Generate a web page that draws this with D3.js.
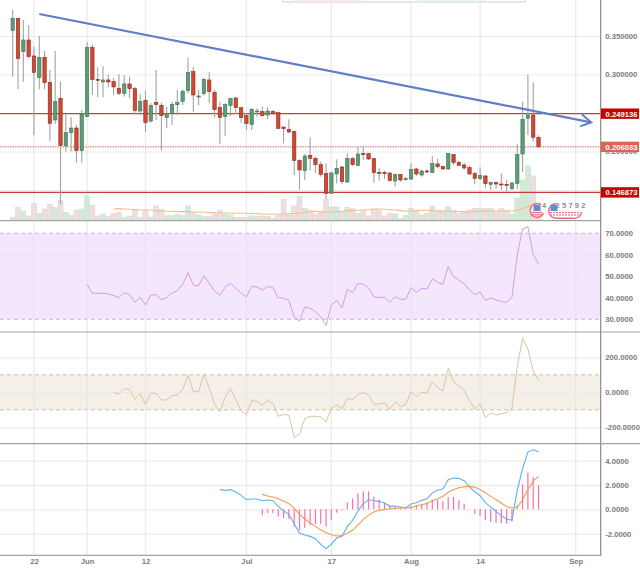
<!DOCTYPE html>
<html>
<head>
<meta charset="utf-8">
<script src="https://cdn.jsdelivr.net/npm/d3@7/dist/d3.min.js"></script>
<style>
html,body{margin:0;padding:0;background:#fff;}
svg{display:block;font-family:"Liberation Sans",Arial,sans-serif;}
.tick text{fill:#7b7b7b;font-size:7.7px;font-weight:700;}
</style>
</head>
<body>
<svg id="chart" width="640" height="568"></svg>
<script>
// Daily candles, first session 18 May
const opens = [.3570,.3730,.3297,.3448,.3241,.2959,.3223,.2898,.2409,.2691,
.2072,.2245,.2305,.2011,.2452,.3353,.2937,.2903,.2929,.2907,
.2821,.2756,.2877,.2816,.2526,.2665,.2396,.2639,.2600,.2440,
.2496,.2608,.2652,.2790,.3037,.2712,.2751,.2929,.2769,.2574,
.2452,.2595,.2695,.2569,.2465,.2349,.2517,.2517,.2474,.2522,
.2504,.2318,.2288,.2262,.1885,.1751,.1950,.1911,.1829,.1712,
.1457,.1708,.1799,.1604,.1907,.1816,.1972,.1972,.1907,.1729,
.1729,.1721,.1617,.1703,.1638,.1643,.1773,.1695,.1747,.1729,
.1838,.1807,.1773,.1959,.1859,.1825,.1790,.1712,.1647,.1682,
.1574,.1595,.1578,.1574,.1517,.1587,.1968,.2431,.2474,.2184];
const highs = [.3838,.3735,.3708,.3643,.3362,.3500,.3306,.3059,.3306,.2907,
.2487,.2444,.2349,.2539,.3422,.3392,.3093,.3111,.3000,.2950,
.3007,.2989,.2972,.2842,.2743,.2790,.2626,.3059,.2634,.2582,
.2647,.2799,.2808,.3219,.3102,.2799,.2950,.3028,.2799,.2647,
.2626,.2691,.2712,.2574,.2496,.2561,.2561,.2582,.2574,.2539,
.2504,.2318,.2418,.2262,.1898,.1968,.2184,.1933,.1868,.1846,
.1738,.1898,.1812,.1976,.1933,.2063,.2072,.1985,.1916,.1790,
.1751,.1730,.1712,.1712,.1673,.1846,.1790,.1760,.1768,.1942,
.1907,.1816,.1976,.1968,.1877,.1855,.1816,.1734,.1794,.1695,
.1612,.1608,.1716,.1630,.1608,.2093,.2647,.2998,.2898,.2210];
const lows = [.2972,.2808,.2907,.3210,.2214,.2808,.2808,.2141,.2357,.1318,
.2000,.2000,.1855,.1855,.2452,.2734,.2704,.2704,.2834,.2734,
.2734,.2712,.2691,.2483,.2474,.2249,.2375,.2409,.2011,.2301,
.2344,.2474,.2604,.2756,.2517,.2604,.2725,.2626,.2440,.2097,
.2201,.2461,.2487,.2375,.2279,.2279,.2452,.2452,.2418,.2474,
.2292,.2106,.2236,.1695,.1500,.1630,.1760,.1725,.1673,.1379,
.1457,.1586,.1578,.1595,.1816,.1816,.1890,.1890,.1595,.1621,
.1643,.1608,.1543,.1608,.1621,.1630,.1682,.1673,.1716,.1716,
.1781,.1760,.1760,.1825,.1812,.1760,.1695,.1578,.1630,.1522,
.1500,.1517,.1500,.1483,.1500,.1513,.1734,.2214,.2128,.2054];
const closes = [.3730,.3206,.3448,.3232,.3028,.3223,.2894,.2366,.2647,.2076,
.2245,.2305,.2011,.2487,.3353,.2937,.2924,.2929,.2903,.2838,
.2756,.2877,.2816,.2535,.2652,.2375,.2600,.2608,.2465,.2487,
.2613,.2639,.2782,.3028,.2734,.2721,.2937,.2777,.2543,.2440,
.2608,.2691,.2569,.2440,.2366,.2548,.2526,.2465,.2526,.2496,
.2301,.2297,.2253,.1885,.1760,.1942,.1911,.1829,.1703,.1457,
.1721,.1781,.1608,.1907,.1829,.1968,.1963,.1903,.1725,.1716,
.1712,.1621,.1699,.1630,.1647,.1764,.1708,.1747,.1734,.1842,
.1803,.1773,.1976,.1855,.1820,.1786,.1708,.1651,.1686,.1582,
.1595,.1578,.1565,.1561,.1591,.1959,.2418,.2474,.2184,.206033];
const volumes = [9,39,28,13,51,21,34,48,39,59,
24,14,31,34,73,46,13,19,11,20,
24,9,13,33,9,28,9,43,33,14,
14,18,14,43,24,16,11,11,19,30,
18,16,9,9,9,13,13,13,11,6,
16,63,16,43,72,36,29,19,24,63,
40,40,26,39,35,21,28,13,33,31,
13,21,19,6,15,36,29,16,21,43,
29,29,40,29,20,23,31,36,36,36,
36,26,36,29,18,66,121,163,133,40];
const volumeAvg = [34,35,34,33,32,31,31,31,29,28,27,27,26,26,26,25,24,24,23,23,
22,22,21,21,21,21,20,20,19,18,18,18,19,20,21,22,24,26,27,26,
25,25,26,27,29,29,30,31,32,34,34,33,32,31,29,27,28,29,30,30,
29,28,27,27,27,26,26,25,26,28,29,28,28,28,28,27,30,35,41,46,50];
const volumeAvgStart = 19;

// Oscillator series, each with the session it starts on
const rsi = [46.3,42.1,42.1,42.1,41.8,41.0,40.1,42.4,41.6,37.9,40.2,36.7,41.2,41.5,39.1,40.1,42.2,43.3,46.3,51.7,
46.0,45.5,50.3,46.7,43.2,41.2,44.9,46.7,44.4,42.2,40.4,45.3,45.0,43.6,45.3,44.7,39.9,39.9,38.8,31.2,
29.2,35.7,35.1,33.6,31.2,27.2,36.7,38.7,35.4,44.0,42.4,46.7,46.4,44.7,40.5,40.2,40.2,37.9,40.5,39.3,
39.3,44.7,42.6,44.4,44.1,48.8,47.2,46.3,54.5,49.8,48.3,46.6,43.6,41.5,42.7,38.8,39.9,39.0,38.2,37.9,
40.2,59.9,72.0,73.1,60.2,55.7];
const rsiStart = 14;
const cci = [0,-10,21,15,-40,-6,-69,-6,-6,-44,-44,-19,-15,15,97,4,4,103,25,-67,
-110,-30,21,-42,-103,-130,-46,-53,-74,-46,-63,-137,-126,-131,-257,-240,-150,-137,-137,-141,
-168,-93,-72,-93,-34,-44,-11,-2,-17,-67,-67,-59,-97,-55,-82,-70,4,-25,0,-4,
59,27,8,137,61,36,10,-48,-95,-67,-145,-118,-130,-122,-118,-91,147,309,248,122,70];
const cciStart = 19;
const macd = [1.62,1.56,1.62,1.42,1.15,.79,.85,.85,.71,.77,.71,.25,-.14,-.41,-1.18,-1.97,-2.11,-2.22,-2.41,-2.88,
-3.23,-2.85,-2.36,-2.22,-1.40,-.90,-.14,.47,.79,.71,.66,.52,.27,.27,.19,.11,.44,.55,.74,.88,
1.34,1.59,1.67,2.44,2.58,2.55,2.36,1.84,1.45,1.12,.55,.19,-.16,-.52,-.82,-.88,1.56,3.34,4.71,4.90,4.74];
const macdStart = 39;
const signal = [1.23,1.10,1.01,.88,.68,.47,.11,-.41,-.79,-1.12,-1.40,-1.67,-1.92,-2.08,-2.19,-2.16,-1.97,-1.70,-1.29,-.85,
-.47,-.22,-.08,0,.03,.08,.11,.11,.16,.27,.38,.49,.71,.85,1.07,1.40,1.64,1.78,1.86,1.89,
1.81,1.64,1.37,1.07,.79,.52,.22,.11,.19,.79,1.62,2.33,2.71];
const histogram = [-.49,-.30,-.30,-.58,-.71,-.82,-1.40,-1.73,-1.53,-1.29,-1.23,-1.18,-1.40,-.85,-.27,-.08,.58,.90,1.32,1.48,
1.48,1.04,.82,.55,.27,.22,.14,.05,.27,.33,.44,.55,.79,.74,.66,1.01,1.01,.74,.47,.03,
-.38,-.55,-.90,-1.04,-1.12,-1.15,-1.18,-.99,.33,2.08,3.04,2.66,2.0];
const signalStart = 47;

// Axis ticks and price annotations
const dateTicks = ["2017-05-22","2017-06-01","2017-06-12","2017-07-01","2017-07-17","2017-08-01","2017-08-14","2017-09-01"].map(d => new Date(d));
const dateLabels = ["22","Jun","12","Jul","17","Aug","14","Sep"];
const priceGrid = [.35,.30,.25,.20,.15];
const priceLabels = [.35,.30,.20];
const rsiTicks = [70,60,50,40,30];
const cciTicks = [200,0,-200];
const macdTicks = [4,2,0,-2];
const levels = [.249136,.146873];
const lastPrice = .206033;
const trendTimes = ["2017-05-23","2017-09-03T22:00:00Z"].map(d => new Date(d));
const trendPrices = [.3786,.2379];
const stampDigits = ["4","2","5","7","9","2"];

const svg = d3.select("#chart");
const axisX = 600.7;

const x = d3.scaleUtc().domain([new Date("2017-05-18"), new Date("2017-09-01")]).range([12.7, 575.7]);
const day = i => d3.utcDay.offset(new Date("2017-05-18"), i);

const yPrice = d3.scaleLinear().domain([.35, .15]).range([36, 190]);
const yVol = d3.scaleLinear().domain([0, 200]).range([220.3, 153.6]);
const yRsi = d3.scaleLinear().domain([70, 30]).range([233.3, 319.3]);
const yCci = d3.scaleLinear().domain([200, -200]).range([357.3, 427.3]);
const yMacd = d3.scaleLinear().domain([4, -2]).range([460.7, 533.7]);

const fmt6 = d3.format(".6f");
const fmt4 = v => d3.format(".4f")(v).replace("\u2212", "-");
const gridColor = "#ebebeb";

// Horizontal grid plus right-hand labels, one axis per pane
function valueAxis(scale, ticks, format) {
  const g = svg.append("g").attr("transform", `translate(${axisX},0)`)
    .call(d3.axisRight(scale).tickValues(ticks).tickFormat(format).tickSize(0).tickPadding(4.6));
  g.select(".domain").remove();
  return g;
}
function hGrid(scale, ticks) {
  const g = svg.append("g").attr("transform", `translate(${axisX},0)`)
    .call(d3.axisLeft(scale).tickValues(ticks).tickFormat("").tickSize(axisX));
  g.select(".domain").remove();
  g.selectAll("line").attr("stroke", gridColor).attr("stroke-width", 1.2);
}

// Shaded oscillator bands go under the grid
function band(scale, top, bottom, fill, dash) {
  svg.append("rect").attr("x", 0).attr("width", axisX)
    .attr("y", scale(top)).attr("height", scale(bottom) - scale(top)).attr("fill", fill);
  [top, bottom].forEach(v => svg.append("line")
    .attr("x1", 0).attr("x2", axisX).attr("y1", scale(v)).attr("y2", scale(v))
    .attr("stroke", dash).attr("stroke-width", 1).attr("stroke-dasharray", "4,3"));
}
band(yRsi, 70, 30, "#f5e6ff", "#cdb4cf");
band(yCci, 100, -100, "#f4efe7", "#c9bfb0");

hGrid(yPrice, priceGrid);
hGrid(yRsi, [60, 50, 40]);
hGrid(yCci, cciTicks);
hGrid(yMacd, macdTicks);

// Vertical date grid and the bottom axis
const xAxis = svg.append("g").attr("transform", "translate(0,555.3)")
  .call(d3.axisBottom(x).tickValues(dateTicks).tickFormat((d, i) => dateLabels[i]).tickSize(0).tickPadding(3));
xAxis.select(".domain").remove();
svg.append("g").selectAll("line").data(dateTicks).join("line")
  .attr("x1", d => x(d)).attr("x2", d => x(d)).attr("y1", 0).attr("y2", 555)
  .attr("stroke", "#e4e4e4").attr("stroke-opacity", .75).attr("stroke-width", 1.3);

// Volume histogram and its moving average
const idx = d3.range(opens.length);
const up = i => closes[i] >= opens[i];
svg.append("g").selectAll("rect").data(idx).join("rect")
  .attr("x", i => x(day(i)) - 2.5).attr("width", 5)
  .attr("y", i => yVol(volumes[i])).attr("height", i => yVol(0) - yVol(volumes[i]))
  .attr("fill", i => up(i) ? "#d3ead8" : "#eddfe0")
  .attr("stroke", i => up(i) ? "#c4e2cb" : "#e2cfd1").attr("stroke-width", .5);

const seriesLine = (scale, start) => d3.line().x((d, i) => x(day(i + start))).y(d => scale(d));
svg.append("path").datum(volumeAvg).attr("d", seriesLine(yVol, volumeAvgStart))
  .attr("fill", "none").attr("stroke", "#f9bd92").attr("stroke-width", 1.1);

// Support and resistance levels, and the last-price marker
svg.append("g").selectAll("line").data(levels).join("line")
  .attr("x1", 0).attr("x2", axisX).attr("y1", d => yPrice(d)).attr("y2", d => yPrice(d))
  .attr("stroke", "#c93c3c").attr("stroke-width", 1.1);
svg.append("line").attr("x1", 0).attr("x2", axisX)
  .attr("y1", yPrice(lastPrice)).attr("y2", yPrice(lastPrice))
  .attr("stroke", "#de6a58").attr("stroke-width", 1).attr("stroke-dasharray", "1.5,1");

// Candles
const candles = svg.append("g");
candles.selectAll("line").data(idx).join("line")
  .attr("x1", i => x(day(i))).attr("x2", i => x(day(i)))
  .attr("y1", i => yPrice(highs[i])).attr("y2", i => yPrice(lows[i]))
  .attr("stroke", "#a2a2a2").attr("stroke-width", 1.1);
candles.selectAll("rect").data(idx).join("rect")
  .attr("x", i => x(day(i)) - 1.7).attr("width", 3.4)
  .attr("y", i => yPrice(Math.max(opens[i], closes[i])))
  .attr("height", i => Math.max(1, Math.abs(yPrice(opens[i]) - yPrice(closes[i]))))
  .attr("fill", i => up(i) ? "#5c9c78" : "#cf4a33")
  .attr("stroke", i => up(i) ? "#3f7458" : "#8f2a20").attr("stroke-width", .6);

// Hand-drawn trend line with an open arrowhead
const tx = trendTimes.map(t => x(t)), ty = trendPrices.map(p => yPrice(p));
svg.append("path")
  .attr("d", d3.line()([[tx[0], ty[0]], [tx[1], ty[1]]]))
  .attr("fill", "none").attr("stroke", "#5f7fc9").attr("stroke-width", 2.2);
svg.append("path")
  .attr("d", d3.line()([[tx[1] - 9.5, ty[1] - 8], [tx[1], ty[1]], [tx[1] - 11, ty[1] + 4]]))
  .attr("fill", "none").attr("stroke", "#5f7fc9").attr("stroke-width", 2);

// RSI, CCI and MACD lines
svg.append("path").datum(rsi).attr("d", seriesLine(yRsi, rsiStart))
  .attr("fill", "none").attr("stroke", "#cf9de6").attr("stroke-width", 1);
svg.append("path").datum(cci).attr("d", seriesLine(yCci, cciStart))
  .attr("fill", "none").attr("stroke", "#dcc3a0").attr("stroke-width", 1);
svg.append("g").selectAll("line").data(histogram).join("line")
  .attr("x1", (d, i) => x(day(i + signalStart))).attr("x2", (d, i) => x(day(i + signalStart)))
  .attr("y1", yMacd(0)).attr("y2", d => yMacd(d))
  .attr("stroke", "#fb6fa3").attr("stroke-width", 1.2);
svg.append("path").datum(macd).attr("d", seriesLine(yMacd, macdStart))
  .attr("fill", "none").attr("stroke", "#5fb1f3").attr("stroke-width", 1.1);
svg.append("path").datum(signal).attr("d", seriesLine(yMacd, signalStart))
  .attr("fill", "none").attr("stroke", "#f69a4c").attr("stroke-width", 1.1);

// Pane separators and the price-scale rule
svg.append("g").selectAll("line").data([220.6, 332, 443.6, 555.3]).join("line")
  .attr("x1", 0).attr("x2", axisX).attr("y1", d => d).attr("y2", d => d)
  .attr("stroke", "#a3a3a3").attr("stroke-width", 1.2);
svg.append("line").attr("x1", axisX).attr("x2", axisX).attr("y1", 0).attr("y2", 555.9)
  .attr("stroke", "#8a8a8a").attr("stroke-width", 1.2);
svg.append("g").selectAll("line").data([332, 443.6]).join("line")
  .attr("x1", axisX).attr("x2", 640).attr("y1", d => d).attr("y2", d => d)
  .attr("stroke", "#a3a3a3").attr("stroke-width", 1.2);

// Right-hand value labels
valueAxis(yPrice, priceLabels, fmt6);
valueAxis(yRsi, rsiTicks, fmt4);
valueAxis(yCci, cciTicks, fmt4);
valueAxis(yMacd, macdTicks, fmt4);

// Price tags over the scale
const tags = svg.append("g").selectAll("g")
  .data([{v: levels[0], c: "#cc0000"}, {v: lastPrice, c: "#dc6450"}, {v: levels[1], c: "#cc0000"}])
  .join("g").attr("transform", d => `translate(601,${yPrice(d.v)})`);
tags.append("rect").attr("y", -5.2).attr("width", 38).attr("height", 10.4).attr("fill", d => d.c);
tags.append("text").attr("x", 4.5).attr("y", 2.9)
  .attr("fill", "#fff").attr("font-size", 7.7).attr("font-weight", 700).text(d => fmt6(d.v));

// Badge pair near the last candles
const badges = svg.append("g");
badges.append("circle").attr("cx", 537).attr("cy", 210.6).attr("r", 6.5).attr("fill", "#fff").attr("fill-opacity", .6);
badges.append("rect").attr("x", 548).attr("y", 208).attr("width", 34).attr("height", 10).attr("rx", 5).attr("fill", "#fff").attr("fill-opacity", .7);
badges.append("path").attr("d", "M541 204.6A7 7 0 1 0 543.6 213")
  .attr("fill", "none").attr("stroke", "#f06a78").attr("stroke-width", 1.4);
badges.append("path").attr("d", "M556 203.6A7.3 7.3 0 0 0 556 218.2L573 218.2A7 7 0 0 0 581.5 212")
  .attr("fill", "none").attr("stroke", "#f06a78").attr("stroke-width", 1.4);
[[533.5, 204.6], [550.5, 204.6]].forEach(([bx, by]) => badges.append("rect")
  .attr("x", bx).attr("y", by).attr("width", 7).attr("height", 6.4).attr("fill", "#5b8fd8"));
[[[532, 542], 212.6, "none"], [[532, 542], 214.8, "none"], [[550, 580], 212.6, "2,1"], [[550, 580], 215, "2,1"]]
  .forEach(([xs, yy, dash]) => badges.append("line")
    .attr("x1", xs[0]).attr("x2", xs[1]).attr("y1", yy).attr("y2", yy)
    .attr("stroke", "#ee5a6c").attr("stroke-width", 1).attr("stroke-dasharray", dash));
badges.selectAll("text").data(stampDigits).join("text")
  .attr("x", (d, i) => i === 0 ? 544 : 557.7 + (i - 1) * 6.4).attr("y", 208)
  .attr("text-anchor", "middle")
  .attr("fill", "#8d8d8d").attr("font-size", 7.5).attr("font-weight", 700).text(d => d);

// Toolbar panel clipped by the top edge
const panel = svg.append("g");
panel.append("rect").attr("x", 283).attr("y", -4).attr("width", 242).attr("height", 6)
  .attr("fill", "#fff").attr("stroke", "#cfcfcf");
panel.append("rect").attr("x", 294).attr("y", 0).attr("width", 69).attr("height", 1.5).attr("fill", "#fbe9ec");
panel.append("rect").attr("x", 417).attr("y", 0).attr("width", 69).attr("height", 1.5).attr("fill", "#e6f3f8");
</script>
</body>
</html>
